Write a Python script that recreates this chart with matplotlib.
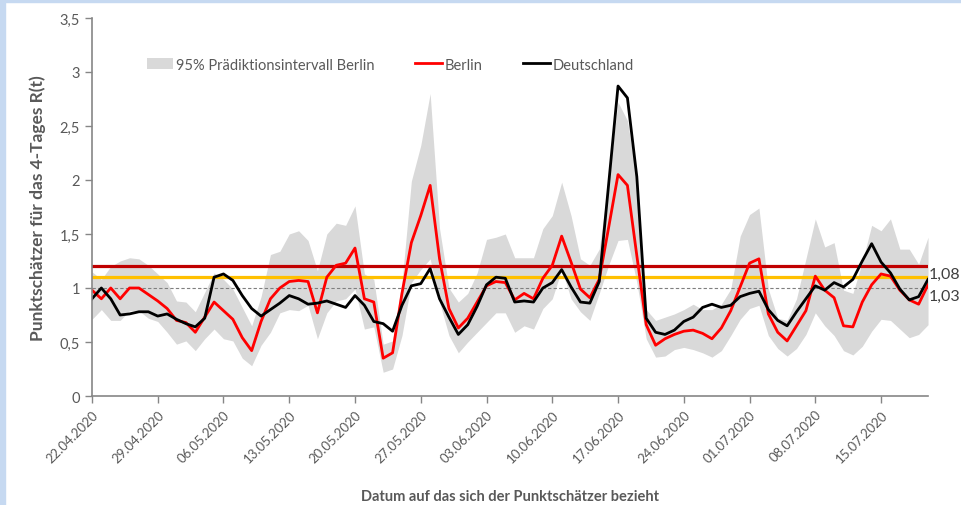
import matplotlib
matplotlib.use('Agg')
import matplotlib.pyplot as plt
import matplotlib.dates as mdates
from matplotlib.patches import Rectangle
import numpy as np
import pandas as pd

plt.rcParams['font.family'] = ['Lato', 'DejaVu Sans']

# daily values 22.04.2020 - 20.07.2020
dates = pd.date_range('2020-04-22', periods=90, freq='D')

berlin = [0.98, 0.90, 1.00, 0.90, 1.00, 1.00, 0.94, 0.88, 0.81, 0.70,
          0.68, 0.59, 0.73, 0.87, 0.79, 0.71, 0.54, 0.42, 0.69, 0.90,
          1.00, 1.06, 1.07, 1.06, 0.77, 1.10, 1.21, 1.23, 1.37, 0.90,
          0.87, 0.35, 0.40, 0.95, 1.42, 1.67, 1.95, 1.27, 0.81, 0.63,
          0.72, 0.87, 1.02, 1.06, 1.05, 0.89, 0.95, 0.90, 1.09, 1.21,
          1.48, 1.24, 0.99, 0.91, 1.08, 1.56, 2.05, 1.95, 1.30, 0.66,
          0.47, 0.53, 0.57, 0.60, 0.61, 0.58, 0.53, 0.63, 0.79, 1.01,
          1.23, 1.27, 0.76, 0.59, 0.51, 0.65, 0.79, 1.11, 0.98, 0.91,
          0.65, 0.64, 0.87, 1.03, 1.13, 1.11, 0.98, 0.89, 0.85, 1.03]

deutschland = [0.90, 1.00, 0.90, 0.75, 0.76, 0.78, 0.78, 0.74, 0.76, 0.71,
               0.67, 0.64, 0.72, 1.10, 1.13, 1.07, 0.93, 0.81, 0.74, 0.80,
               0.86, 0.93, 0.90, 0.85, 0.86, 0.88, 0.85, 0.82, 0.93, 0.84,
               0.69, 0.67, 0.60, 0.84, 1.02, 1.04, 1.18, 0.90, 0.73, 0.57,
               0.66, 0.83, 1.03, 1.10, 1.09, 0.87, 0.88, 0.87, 1.00, 1.05,
               1.17, 1.01, 0.87, 0.86, 1.06, 1.96, 2.87, 2.76, 2.03, 0.72,
               0.59, 0.57, 0.61, 0.69, 0.73, 0.82, 0.85, 0.82, 0.84, 0.92,
               0.95, 0.97, 0.80, 0.70, 0.65, 0.78, 0.90, 1.02, 0.98, 1.05,
               1.01, 1.08, 1.25, 1.41, 1.24, 1.14, 0.99, 0.89, 0.92, 1.08]

pi_upper = [1.15, 1.08, 1.20, 1.25, 1.28, 1.27, 1.21, 1.13, 1.05, 0.88,
            0.87, 0.78, 0.96, 1.14, 1.08, 0.99, 0.82, 0.65, 0.92, 1.31,
            1.34, 1.50, 1.53, 1.44, 1.16, 1.50, 1.60, 1.58, 1.76, 1.13,
            1.08, 0.48, 0.51, 1.05, 1.99, 2.32, 2.80, 1.55, 1.00, 0.87,
            0.95, 1.14, 1.45, 1.47, 1.50, 1.28, 1.28, 1.28, 1.55, 1.67,
            1.98, 1.67, 1.27, 1.21, 1.36, 2.00, 2.72, 2.55, 2.00, 0.80,
            0.70, 0.73, 0.76, 0.80, 0.85, 0.80, 0.80, 0.85, 0.99, 1.48,
            1.68, 1.74, 0.99, 0.72, 0.70, 0.90, 1.27, 1.64, 1.38, 1.42,
            0.98, 0.95, 1.24, 1.58, 1.53, 1.64, 1.36, 1.36, 1.22, 1.47]

pi_lower = [0.71, 0.80, 0.70, 0.70, 0.79, 0.79, 0.72, 0.69, 0.59, 0.48,
            0.51, 0.42, 0.53, 0.62, 0.53, 0.51, 0.35, 0.28, 0.47, 0.59,
            0.77, 0.80, 0.79, 0.84, 0.53, 0.77, 0.88, 0.90, 0.99, 0.62,
            0.64, 0.22, 0.25, 0.56, 1.05, 1.17, 1.27, 0.87, 0.56, 0.40,
            0.50, 0.59, 0.68, 0.77, 0.77, 0.59, 0.65, 0.62, 0.81, 0.90,
            1.17, 0.90, 0.78, 0.70, 0.95, 1.21, 1.44, 1.45, 1.05, 0.53,
            0.36, 0.37, 0.43, 0.45, 0.43, 0.40, 0.36, 0.42, 0.56, 0.71,
            0.81, 0.84, 0.56, 0.44, 0.37, 0.44, 0.57, 0.77, 0.65, 0.56,
            0.42, 0.38, 0.46, 0.60, 0.71, 0.70, 0.62, 0.54, 0.57, 0.66]

red_level = 1.2
yellow_level = 1.1
ref_level = 1.0

grey = '#595959'

fig = plt.figure(figsize=(9.61, 5.06), dpi=100)
ax = fig.add_axes([0.0957, 0.2154, 0.87, 0.7471])

# light blue frame of the original screenshot
fig.patches.append(Rectangle((0, 0), 5 / 961, 1, transform=fig.transFigure,
                             color='#c6d9f1', zorder=0))
fig.patches.append(Rectangle((0, 1 - 3 / 506), 1, 3 / 506, transform=fig.transFigure,
                             color='#c6d9f1', zorder=0))

band = ax.fill_between(dates, pi_lower, pi_upper, color='#d9d9d9', lw=0,
                       label='95% Prädiktionsintervall Berlin')
ax.axhline(ref_level, color='#7f7f7f', lw=0.8, ls=(0, (3, 2)))
ax.axhline(red_level, color='#c00000', lw=2.3)
ax.axhline(yellow_level, color='#ffc000', lw=2.3)
l1, = ax.plot(dates, berlin, color='#ff0000', lw=2.0, label='Berlin')
l2, = ax.plot(dates, deutschland, color='black', lw=2.0, label='Deutschland')

# labels of the last values
ax.annotate(f'{deutschland[-1]:.2f}'.replace('.', ','), (dates[-1], deutschland[-1]),
            xytext=(0.5, 4), textcoords='offset points', fontsize=11.5,
            color='#404040', va='center', ha='left', annotation_clip=False)
ax.annotate(f'{berlin[-1]:.2f}'.replace('.', ','), (dates[-1], berlin[-1]),
            xytext=(0.5, -8), textcoords='offset points', fontsize=11.5,
            color='#404040', va='center', ha='left', annotation_clip=False)

ax.set_xlim(dates[0], dates[-1])
ax.set_ylim(0, 3.5)
ax.set_yticks(np.arange(0, 3.51, 0.5))
ax.set_yticklabels([f'{v:g}'.replace('.', ',') for v in np.arange(0, 3.51, 0.5)])
ax.set_xticks(dates[::7])
ax.xaxis.set_major_formatter(mdates.DateFormatter('%d.%m.%Y'))
plt.setp(ax.get_xticklabels(), rotation=45, ha='right', rotation_mode='anchor')

ax.tick_params(axis='y', colors='#868686', labelcolor=grey, labelsize=10.5, length=5, width=1)
ax.tick_params(axis='x', colors='#868686', labelcolor=grey, labelsize=9.5, length=5, width=1)
for s in ['top', 'right']:
    ax.spines[s].set_visible(False)
for s in ['left', 'bottom']:
    ax.spines[s].set_color('#868686')
    ax.spines[s].set_linewidth(1.2)

ax.set_ylabel('Punktschätzer für das 4-Tages R(t)', fontsize=12.5, fontweight='bold',
              color=grey, labelpad=10)
ax.set_xlabel('Datum auf das sich der Punktschätzer bezieht', fontsize=10.5,
              fontweight='bold', color=grey, labelpad=18)

leg = ax.legend(handles=[band, l1, l2], ncol=3, loc='upper left',
                bbox_to_anchor=(0.05, 0.93), frameon=False, fontsize=10.5,
                handlelength=1.8, handletextpad=0.2, columnspacing=2.8)
for t in leg.get_texts():
    t.set_color(grey)

fig.savefig('out.png', dpi=100)
